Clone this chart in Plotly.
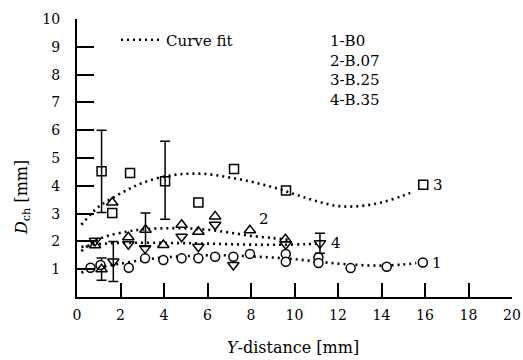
import plotly.graph_objects as go

# ---- data ----
# Series 1 : B0 (circles)
x1 = [0.62, 1.08, 2.38, 3.13, 3.97, 4.81, 5.58, 6.35, 7.19, 7.95, 9.6, 9.6, 11.1, 11.1, 12.58, 14.24, 15.9]
y1 = [1.05, 1.15, 1.05, 1.39, 1.33, 1.39, 1.39, 1.45, 1.45, 1.55, 1.55, 1.27, 1.42, 1.22, 1.04, 1.09, 1.24]
# Series 2 : B.07 (up triangles)
x2 = [0.83, 1.13, 1.62, 2.36, 3.15, 3.97, 4.81, 5.58, 6.35, 7.95, 9.58]
y2 = [1.86, 1.0, 3.4, 2.15, 2.42, 1.87, 2.6, 2.35, 2.9, 2.4, 2.08]
# Series 3 : B.25 (squares)
x3 = [1.13, 1.62, 2.44, 4.05, 5.58, 7.22, 9.61, 15.92]
y3 = [4.52, 3.02, 4.46, 4.16, 3.40, 4.6, 3.83, 4.04]
# Series 4 : B.35 (down triangles)
x4 = [0.83, 1.67, 2.36, 3.13, 4.81, 5.58, 6.35, 7.19, 9.6, 11.17]
y4 = [2.02, 1.28, 1.9, 1.75, 2.17, 1.81, 2.6, 1.15, 1.9, 1.93]

# error bars (x, y, +/-)
e2x, e2y, e2e = [1.13, 3.15], [1.0, 2.42], [0.4, 0.6]
e3x, e3y, e3e = [1.13, 4.05], [4.52, 4.2], [1.48, 1.4]
e4x, e4y, e4e = [1.67, 11.17], [1.28, 1.93], [0.72, 0.36]

# curve fits
c1x = [0.2, 0.6, 1.0, 1.5, 2.0, 3.0, 4.0, 5.0, 6.0, 7.0, 8.0, 9.0, 10.0, 11.0, 12.0, 13.0, 14.0, 15.0, 15.6]
c1y = [0.88, 0.97, 1.05, 1.13, 1.2, 1.33, 1.42, 1.47, 1.5, 1.5, 1.46, 1.42, 1.36, 1.28, 1.2, 1.15, 1.13, 1.17, 1.22]
c2x = [0.2, 0.6, 1.0, 1.5, 2.3, 3.0, 4.0, 5.0, 6.0, 7.0, 8.0, 9.0, 9.7]
c2y = [1.65, 1.9, 2.08, 2.22, 2.35, 2.43, 2.47, 2.47, 2.42, 2.32, 2.2, 2.12, 2.06]
c3x = [0.2, 0.6, 1.0, 1.5, 2.3, 3.0, 4.0, 5.0, 6.0, 7.0, 8.0, 9.0, 10.0, 11.0, 12.0, 13.0, 14.0, 15.0, 15.5]
c3y = [2.6, 2.95, 3.25, 3.5, 3.85, 4.1, 4.33, 4.43, 4.42, 4.3, 4.15, 3.95, 3.7, 3.45, 3.27, 3.27, 3.4, 3.65, 3.8]
c4x = [0.2, 0.6, 1.0, 1.5, 2.5, 3.5, 4.5, 5.5, 6.5, 7.5, 8.5, 9.5, 10.5, 11.1]
c4y = [1.8, 1.86, 1.9, 1.93, 1.95, 1.95, 1.94, 1.93, 1.91, 1.89, 1.88, 1.88, 1.9, 1.92]

xticks = list(range(0, 21, 2))
yticks = list(range(1, 11))

series_labels = ["1-B0", "2-B.07", "3-B.25", "4-B.35"]
curve_labels = [("1", 16.55, 1.24), ("2", 8.6, 2.8), ("3", 16.6, 4.04), ("4", 11.9, 1.93)]

FONT = "DejaVu Serif"
W, H = 523, 360
PL, PR, PT, PB = 77, 512, 19, 297  # plot area in window pixels
fig = go.Figure()

dot_line = dict(color="black", width=2.6, dash="2px,4px")
for i, (cx, cy) in enumerate([(c1x, c1y), (c2x, c2y), (c3x, c3y), (c4x, c4y)]):
    fig.add_trace(go.Scatter(x=cx, y=cy, mode="lines", line=dict(shape="spline", **dot_line),
                             name="Curve fit", showlegend=(i == 0), hoverinfo="skip"))

err_style = dict(type="data", symmetric=True, color="black", thickness=1.5, width=5)
for ex, ey, ee in [(e2x, e2y, e2e), (e3x, e3y, e3e), (e4x, e4y, e4e)]:
    fig.add_trace(go.Scatter(x=ex, y=ey, mode="markers", showlegend=False,
                             marker=dict(size=1, color="rgba(0,0,0,0)"),
                             error_y=dict(array=ee, **err_style)))

mk = dict(color="white", line=dict(color="black", width=1.5))
fig.add_trace(go.Scatter(x=x1, y=y1, mode="markers", showlegend=False,
                         marker=dict(symbol="circle", size=9, **mk)))
fig.add_trace(go.Scatter(x=x2, y=y2, mode="markers", showlegend=False,
                         marker=dict(symbol="triangle-up-open", size=10, color="black", line=dict(width=1.5))))
fig.add_trace(go.Scatter(x=x3, y=y3, mode="markers", showlegend=False,
                         marker=dict(symbol="square-open", size=9, color="black", line=dict(width=1.5))))
fig.add_trace(go.Scatter(x=x4, y=y4, mode="markers", showlegend=False,
                         marker=dict(symbol="triangle-down-open", size=10, color="black", line=dict(width=1.5))))

pw, ph = PR - PL, PB - PT
def px(x):
    return (x - PL) / pw
def py(y):
    return (PB - y) / ph

ann = []
for t, ax_, ay_ in curve_labels:
    ann.append(dict(x=ax_, y=ay_, xref="x", yref="y", text=t, showarrow=False,
                    xanchor="center", yanchor="middle", font=dict(family=FONT, size=15, color="black")))
ann.append(dict(x=px(328), y=py(30), xref="paper", yref="paper",
                text="<br>".join(series_labels), showarrow=False, align="left",
                xanchor="left", yanchor="top", font=dict(family=FONT, size=15, color="black")))
ann.append(dict(x=px(293), y=py(347), xref="paper", yref="paper",
                text="<i>Y</i>-distance [mm]", showarrow=False, xanchor="center", yanchor="middle",
                font=dict(family=FONT, size=16, color="black")))
ann.append(dict(x=px(22), y=py(197), xref="paper", yref="paper",
                text="<i>D</i><sub>ch</sub> [mm]", showarrow=False, textangle=-90,
                xanchor="center", yanchor="middle", font=dict(family=FONT, size=16, color="black")))

fig.update_layout(
    template="none",
    width=W, height=H,
    margin=dict(l=PL, r=W - PR, t=PT, b=H - PB, autoexpand=False),
    paper_bgcolor="white", plot_bgcolor="white",
    showlegend=True,
    legend=dict(x=px(116), y=py(40), xanchor="left", yanchor="middle",
                bgcolor="rgba(0,0,0,0)", font=dict(family=FONT, size=15, color="black"),
                itemwidth=40),
    annotations=ann,
    xaxis=dict(range=[0, 20], tickvals=xticks, ticks="inside", ticklen=14, tickwidth=1.5,
               tickcolor="black", showline=True, linecolor="black", linewidth=2, automargin=False,
               showgrid=False, zeroline=False, tickfont=dict(family=FONT, size=14, color="black"),
               ticklabelstandoff=4),
    yaxis=dict(range=[0, 10], tickvals=yticks, ticks="inside", ticklen=17, tickwidth=1.5,
               tickcolor="black", showline=True, linecolor="black", linewidth=2, automargin=False,
               showgrid=False, zeroline=False, tickfont=dict(family=FONT, size=14, color="black"),
               ticklabelstandoff=12),
)

fig.write_html("out.html", config={"displayModeBar": False},
               post_script="document.body.style.margin='0';document.body.style.overflow='hidden';")
